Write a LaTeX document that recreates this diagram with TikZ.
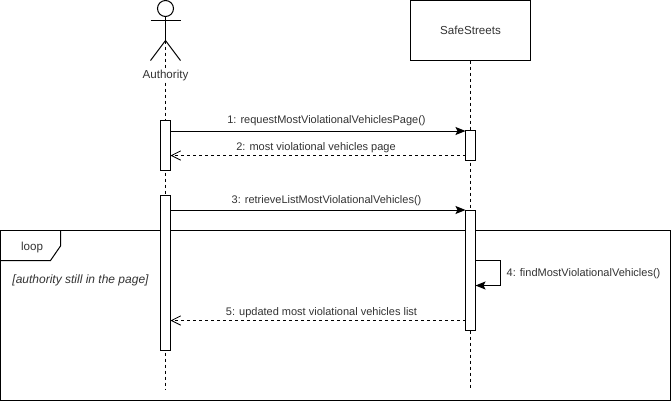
\documentclass[tikz,border=0pt]{standalone}
\usepackage{fontspec}
\setmainfont{Liberation Sans}
\usetikzlibrary{arrows.meta,calc}
\definecolor{txt}{HTML}{333333}
\tikzset{
  x=0.75pt,y=-0.75pt,
  lin/.style={draw=black,line width=0.75pt},
  lifeline/.style={lin,dash pattern=on 2.25pt off 2.25pt},
  activation/.style={lin,fill=white,inner sep=0pt,outer sep=0pt,minimum width=7.5pt,anchor=north west},
  msg/.style={lin,-{Stealth[length=7.5pt,width=6pt,inset=1.5pt]}},
  ret/.style={lin,dash pattern=on 2.25pt off 2.25pt,-{Straight Barb[length=7pt,width=7pt,line width=0.6pt]}},
  lbl/.style={font=\fontsize{8.25pt}{10pt}\selectfont,text=txt,inner sep=0pt},
  biglbl/.style={font=\fontsize{8.7pt}{10pt}\selectfont,text=txt,inner sep=0pt},
}
\begin{document}
\begin{tikzpicture}
\useasboundingbox[fill=white] (0,0) rectangle (671,401);
% frame
\node[lin,fill=none,inner sep=0pt,outer sep=0pt,minimum width=502.5pt,minimum height=127.5pt,anchor=north west] (frame) at (0.5,230.5) {};
% actor and participant
\node[lin,circle,inner sep=0pt,outer sep=0pt,minimum size=12pt] (head) at (165.5,8.5) {};
\coordinate (hip) at (165.5,40.5);
\coordinate (armL) at (150.5,20.5);
\coordinate (armR) at (180.5,20.5);
\coordinate (legL) at (150.5,60.5);
\coordinate (legR) at (180.5,60.5);
\draw[lin] (head.south) -- (hip);
\draw[lin] (armL) -- (armR);
\draw[lin] (legL) -- (hip) -- (legR);
\node[lin,fill=white,inner sep=0pt,outer sep=0pt,minimum width=90pt,minimum height=45pt,anchor=north west] (safe) at (410.5,0.5) {};
\node[biglbl] (safelabel) at (470.5,30.5) {SafeStreets};
\coordinate (authEnd) at (165.5,390);
\coordinate (safeEnd) at (470.5,390);
\draw[lifeline] (hip) -- (authEnd);
\draw[lifeline] (safe.south) -- (safeEnd);
\node[biglbl,fill=white,inner xsep=0pt,inner ysep=1pt] (authority) at (165.5,75) {Authority};
% activations
\node[activation,minimum height=37.5pt] (a1) at (160.5,120.5) {};
\node[activation,minimum height=116.25pt] (a2) at (160.5,195.5) {};
\node[activation,minimum height=22.5pt] (b1) at (465.5,130.5) {};
\node[activation,minimum height=90pt] (b2) at (465.5,210.5) {};
% frame tab
\coordinate (tabA) at (60.5,230.5);
\coordinate (tabB) at (60.5,246);
\coordinate (tabC) at (50.5,260.5);
\coordinate (tabD) at (0.5,260.5);
\draw[lin] (tabA) -- (tabB) -- (tabC) -- (tabD);
\node[biglbl] (loop) at (32,247) {loop};
\node[biglbl,font=\fontsize{9pt}{10pt}\selectfont\itshape] (guard) at (80.5,280) {[authority still in the page]};
% messages
\coordinate (y1) at (0,131);
\coordinate (y2) at (0,155.5);
\coordinate (y3) at (0,210);
\coordinate (y5) at (0,320.5);
\draw[msg] (a1.east |- y1) -- (b1.west |- y1);
\draw[ret] (b1.west |- y2) -- (a1.east |- y2);
\draw[msg] (a2.east |- y3) -- (b2.west |- y3);
\coordinate (s1) at (500.5,260.5);
\coordinate (s2) at (500.5,285.5);
\draw[msg] (b2.east |- s1) -- (s1) -- (s2) -- (b2.east |- s2);
\draw[ret] (b2.west |- y5) -- (a2.east |- y5);
% labels
\node[lbl] (m1) at (326.5,120.5) {1: requestMostViolationalVehiclesPage()};
\node[lbl] (m2) at (316,147.5) {2: most violational vehicles page};
\node[lbl] (m3) at (326.5,200.5) {3: retrieveListMostViolationalVehicles()};
\node[lbl] (m4) at (583.5,274) {4: findMostViolationalVehicles()};
\node[lbl] (m5) at (321.5,312.5) {5: updated most violational vehicles list};
\end{tikzpicture}
\end{document}
